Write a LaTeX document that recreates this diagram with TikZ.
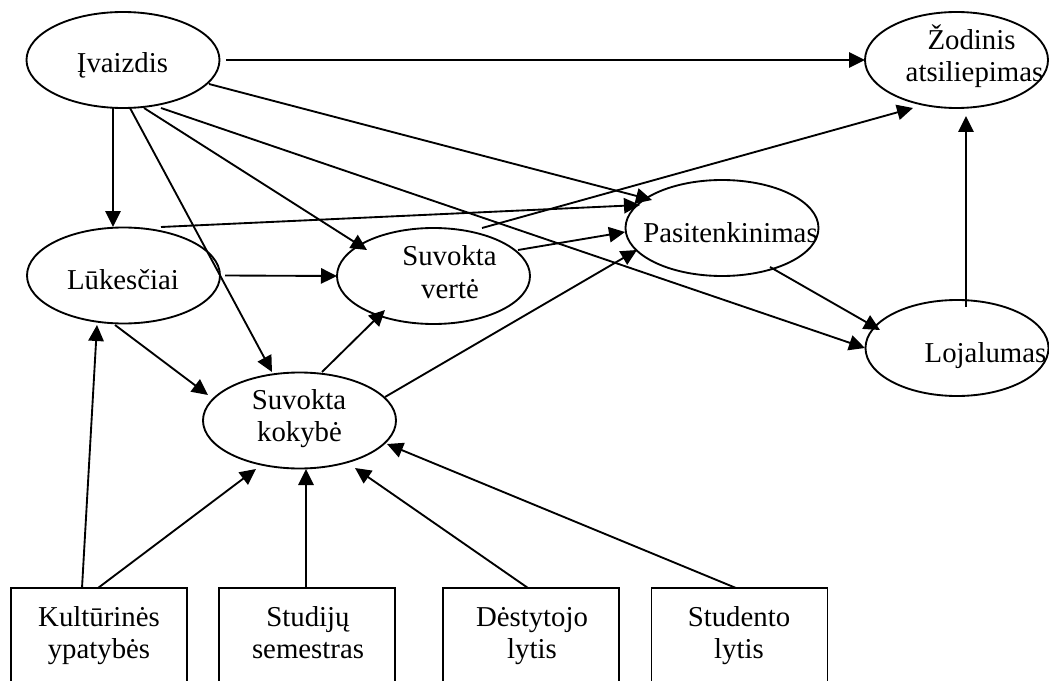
\documentclass[tikz,border=0pt]{standalone}
\usepackage{fontspec}
\setmainfont{Liberation Serif}
\usetikzlibrary{arrows.meta,calc,shapes.geometric}
\begin{document}
\begin{tikzpicture}[x=0.75pt,y=-0.75pt,
  ell/.style={draw,ellipse,line width=1.4pt,inner sep=0pt,outer sep=0pt,minimum width=144.75pt,minimum height=72pt},
  ellw/.style={ell,minimum width=137.25pt},
  boxn/.style={draw,rectangle,line width=1.4pt,inner sep=0pt,outer sep=0pt,minimum width=132pt,minimum height=78pt},
  txt/.style={anchor=base,inner sep=0pt,font=\fontsize{21.6}{24}\selectfont},
  arr/.style={line width=1.4pt,-{Triangle[length=12pt,width=11.5pt]}}]
\useasboundingbox (0,0) rectangle (1049,681);
\clip (0,0) rectangle (1049,681);
% ellipses
\node[ell] (iv) at (123,60) {};
\node[ellw] (zo) at (956.5,60) {};
\node[ell] (pa) at (722,228) {};
\node[ellw] (lo) at (957,348) {};
\node[ell] (lu) at (123.5,275.5) {};
\node[ell] (sv) at (433.5,276) {};
\node[ell] (sk) at (299.5,420.5) {};
% boxes
\node[boxn] (b1) at (99,640) {};
\node[boxn] (b2) at (307,640) {};
\node[boxn] (b3) at (531,640) {};
\node[boxn] (b4) at (739.5,640) {};
% texts
\node[txt] (ivt) at (122.5,73) {Įvaizdis};
\node[txt] (zot1) at (971.5,50) {Žodinis};
\node[txt] (zot2) at (974.5,82) {atsiliepimas};
\node[txt] (pat) at (730.5,242) {Pasitenkinimas};
\node[txt] (lot) at (985.5,362) {Lojalumas};
\node[txt] (lut) at (123,289) {Lūkesčiai};
\node[txt] (svt1) at (449.5,265) {Suvokta};
\node[txt] (svt2) at (450,298) {vertė};
\node[txt] (skt1) at (299,409) {Suvokta};
\node[txt] (skt2) at (299.5,441) {kokybė};
\node[txt] (b1t1) at (99,626) {Kultūrinės};
\node[txt] (b1t2) at (99,658) {ypatybės};
\node[txt] (b2t1) at (308,626) {Studijų};
\node[txt] (b2t2) at (308,658) {semestras};
\node[txt] (b3t1) at (532,626) {Dėstytojo};
\node[txt] (b3t2) at (532,658) {lytis};
\node[txt] (b4t1) at (739,626) {Studento};
\node[txt] (b4t2) at (739,658) {lytis};
% connectors
\draw[arr] ($(iv)+(103,0)$) -- ($(zo)+(-91.5,0)$);
\draw[arr] ($(iv)+(-10,48)$) -- ($(lu)+(-10.5,-48.5)$);
\draw[arr] ($(iv)+(86,24)$) -- ($(pa)+(-70,-28)$);
\draw[arr] ($(iv)+(38,48)$) -- ($(lo)+(-92,0)$);
\draw[arr] ($(iv)+(21,48)$) -- ($(sv)+(-66.5,-26)$);
\draw[arr] ($(iv)+(7,48)$) -- ($(sk)+(-27.5,-48.5)$);
\draw[arr] ($(lu)+(37.5,-48.5)$) -- ($(pa)+(-82,-23)$);
\draw[arr] ($(lu)+(101.5,0)$) -- ($(sv)+(-96.5,0)$);
\draw[arr] ($(lu)+(-8.5,49.5)$) -- ($(sk)+(-91.5,-25.5)$);
\draw[arr] ($(sk)+(22.5,-48.5)$) -- ($(sv)+(-48.5,34)$);
\draw[arr] ($(sk)+(85.5,-23.5)$) -- ($(pa)+(-85,22)$);
\draw[arr] ($(sv)+(84.5,-26)$) -- ($(pa)+(-97,4)$);
\draw[arr] ($(sv)+(48.5,-48)$) -- ($(zo)+(-43.5,48)$);
\draw[arr] ($(pa)+(48,39)$) -- ($(lo)+(-77,-18)$);
\draw[arr] ($(lo)+(9,-41)$) -- ($(zo)+(9.5,56)$);
\draw[arr] ($(b1)+(-17,-52)$) -- ($(lu)+(-26.5,49.5)$);
\draw[arr] ($(b1)+(-1,-52)$) -- ($(sk)+(-43.5,48.5)$);
\draw[arr] ($(b2)+(-1,-52)$) -- ($(sk)+(6.5,48.5)$);
\draw[arr] ($(b3)+(-3,-52)$) -- ($(sk)+(55.5,47.5)$);
\draw[arr] ($(b4)+(-3.5,-52)$) -- ($(sk)+(87.5,23.5)$);
\end{tikzpicture}
\end{document}
